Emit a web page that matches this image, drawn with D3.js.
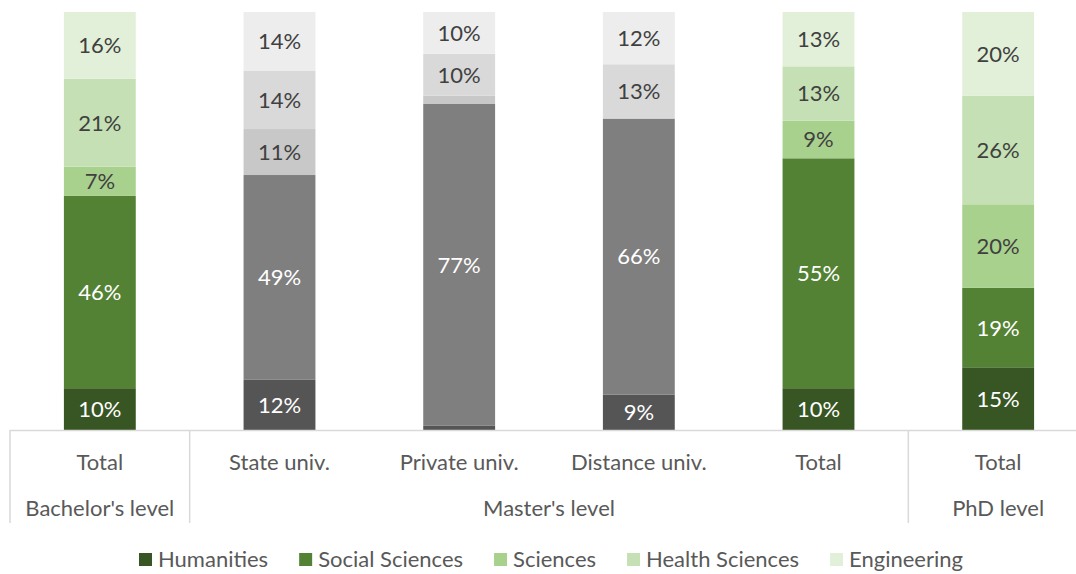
<!DOCTYPE html>
<html><head><meta charset="utf-8">
<script src="https://cdn.jsdelivr.net/npm/d3@7"></script>
<style>body{margin:0;background:#fff}svg{display:block}</style>
</head><body>
<svg id="c" width="1076" height="574"></svg>
<script>
const categories = ["Total","State univ.","Private univ.","Distance univ.","Total","Total"];
const groups = [{name:"Bachelor's level", from:0, to:0},{name:"Master's level", from:1, to:4},{name:"PhD level", from:5, to:5}];
const seriesNames = ["Humanities","Social Sciences","Sciences","Health Sciences","Engineering"];
const humanities    = [10,12, 1, 8.5,10,15];
const socialSci     = [46,49,77,66,55,19];
const sciences      = [ 7,11, 2, 0, 9,20];
const healthSci     = [21,14,10,13,13,26];
const engineering   = [16,14,10,12.5,13,20];
const labels = [
  ["10%","46%","7%","21%","16%"],
  ["12%","49%","11%","14%","14%"],
  ["","77%","","10%","10%"],
  ["9%","66%","","13%","12%"],
  ["10%","55%","9%","13%","13%"],
  ["15%","19%","20%","26%","20%"]
];
const grayBars = [false,true,true,true,false,false];
const greenColors = ["#375623","#548235","#a9d18e","#c5e0b4","#e2f0d9"];
const grayColors  = ["#555555","#7f7f7f","#c8c8c8","#d9d9d9","#ededed"];
const whiteText = [true,true,false,false,false];

const values = [humanities, socialSci, sciences, healthSci, engineering];
const svg = d3.select("#c");
const FONT = "Lato, 'Open Sans', sans-serif";
const FS = 22;
const x = d3.scaleBand().domain(d3.range(categories.length)).range([10,1088]).paddingInner(0.6).paddingOuter(0.3);
const y = d3.scaleLinear().domain([0,100]).range([430,12]);

const rows = categories.map((c,i)=>{const r={i}; seriesNames.forEach((s,k)=>r[s]=values[k][i]); return r;});
const stack = d3.stack().keys(seriesNames)(rows);

stack.forEach((layer,k)=>{
  const g = svg.append("g");
  g.selectAll("rect").data(layer).join("rect")
    .attr("x", d=>x(d.data.i)).attr("width", x.bandwidth())
    .attr("y", d=>y(d[1])).attr("height", d=>y(d[0])-y(d[1]))
    .attr("fill", d=> grayBars[d.data.i] ? grayColors[k] : greenColors[k]);
  g.selectAll("text").data(layer).join("text")
    .attr("x", d=>x(d.data.i)+x.bandwidth()/2)
    .attr("y", d=>(y(d[0])+y(d[1]))/2)
    .attr("dy","0.36em").attr("text-anchor","middle")
    .style("font-family",FONT).style("font-size",FS+"px")
    .attr("fill", whiteText[k] ? "#ffffff" : "#404040")
    .text(d=>labels[d.data.i][k]);
});

// axis
const ax = svg.append("g");
ax.append("line").attr("x1",10).attr("x2",1076).attr("y1",430.5).attr("y2",430.5).attr("stroke","#d9d9d9").attr("stroke-width",1.5);
const seps = [x.range()[0]].concat(groups.slice(1).map(g=>x(g.from) - x.step()*x.paddingInner()/2));
seps.forEach(s=>{
  ax.append("line").attr("x1",s).attr("x2",s).attr("y1",430).attr("y2",523).attr("stroke","#d9d9d9").attr("stroke-width",1.5);
});
ax.selectAll("text.cat").data(categories).join("text").attr("class","cat")
  .attr("x",(d,i)=>x(i)+x.bandwidth()/2).attr("y",462).attr("dy","0.36em")
  .attr("text-anchor","middle").style("font-family",FONT).style("font-size",FS+"px").attr("fill","#595959").text(d=>d);
ax.selectAll("text.grp").data(groups).join("text").attr("class","grp")
  .attr("x",g=>{const a = g.from===0? 10 : x(g.from)-x.step()*x.paddingInner()/2; const b = x(g.to)+x.bandwidth()+x.step()*x.paddingInner()/2; return (a+Math.min(b,1088))/2;})
  .attr("y",508).attr("dy","0.36em")
  .attr("text-anchor","middle").style("font-family",FONT).style("font-size",FS+"px").attr("fill","#595959").text(g=>g.name);

// legend
const lg = svg.append("g");
let cx = 139;
seriesNames.forEach((s,k)=>{
  lg.append("rect").attr("x",cx).attr("y",553).attr("width",13).attr("height",13).attr("fill",greenColors[k]);
  const t = lg.append("text").attr("x",cx+19).attr("y",559.5).attr("dy","0.36em")
    .style("font-family",FONT).style("font-size",FS+"px").attr("fill","#595959").text(s);
  cx += 19 + t.node().getComputedTextLength() + 31;
});
</script>
</body></html>
